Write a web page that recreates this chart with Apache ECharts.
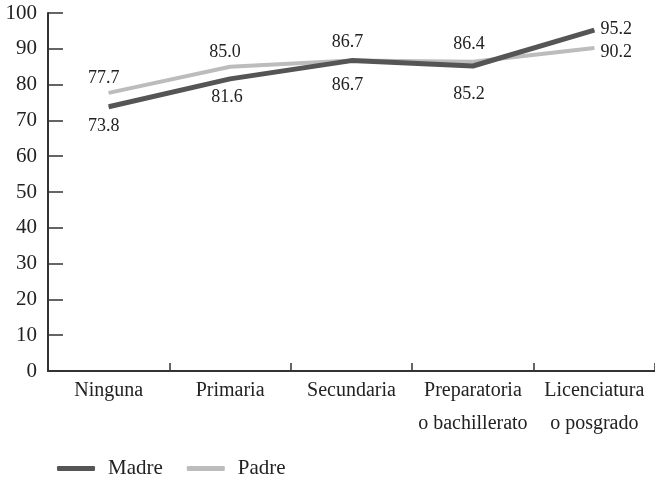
<!DOCTYPE html>
<html>
<head>
<meta charset="utf-8">
<script src="https://cdn.jsdelivr.net/npm/echarts@6/dist/echarts.min.js"></script>
<style>html,body{margin:0;padding:0;background:#fff}#c{width:655px;height:478px}</style>
</head>
<body>
<div id="c"></div>
<script>
const categories = ['Ninguna', 'Primaria', 'Secundaria', 'Preparatoria\no bachillerato', 'Licenciatura\no posgrado'];
const madre = [73.8, 81.6, 86.7, 85.2, 95.2];
const padre = [77.7, 85.0, 86.7, 86.4, 90.2];
const yTicks = [0, 10, 20, 30, 40, 50, 60, 70, 80, 90, 100];

// label placement tweaks (layout only)
const padreNudge = [[-5, 5], [-5, 5], [-4, 1], [-4, 2], [22, 24]];
const madreNudge = [[-5, -1], [-3, -2], [-4, 4], [-4, 8], [22, -21]];

const FONT = 'Liberation Serif';
const TXT = '#222';
const chart = echarts.init(document.getElementById('c'), null, {renderer: 'canvas'});
function lbl(pos, dist) {
  return {show: true, fontFamily: FONT, fontSize: 18, color: TXT, position: pos, distance: dist, formatter: p => Number(p.value).toFixed(1)};
}
chart.setOption({
  animation: false,
  grid: {left: 48, right: 0, top: 13, bottom: 107, containLabel: false},
  legend: {
    top: 453, left: 52, itemWidth: 38, itemHeight: 5, itemGap: 24,
    textStyle: {fontFamily: FONT, fontSize: 21, color: TXT, padding: [0, 0, 0, 8]},
    data: [{name: 'Madre', icon: 'roundRect'}, {name: 'Padre', icon: 'roundRect'}]
  },
  xAxis: {
    type: 'category', data: categories, boundaryGap: true,
    axisLine: {lineStyle: {color: '#333', width: 2}},
    axisTick: {show: true, inside: true, length: 8, lineStyle: {color: '#333', width: 1.5}},
    axisLabel: {fontFamily: FONT, fontSize: 20, color: TXT, lineHeight: 33, margin: 3, interval: 0}
  },
  yAxis: {
    type: 'value', min: 0, max: 100, interval: 10,
    axisLine: {show: true, lineStyle: {color: '#333', width: 2}},
    axisTick: {show: true, inside: true, length: 15, lineStyle: {color: '#333', width: 1.5}},
    splitLine: {show: false},
    axisLabel: {fontFamily: FONT, fontSize: 21, color: TXT, margin: 11, formatter: v => yTicks.includes(v) ? String(v) : ''}
  },
  series: [
    {
      name: 'Padre', type: 'line', data: padre, symbol: 'circle', symbolSize: 1, showSymbol: true, z: 2,
      lineStyle: {color: '#bcbcbc', width: 4},
      itemStyle: {color: '#bcbcbc'},
      label: lbl('top', 10),
      labelLayout: p => ({dx: padreNudge[p.dataIndex][0], dy: padreNudge[p.dataIndex][1]})
    },
    {
      name: 'Madre', type: 'line', data: madre, symbol: 'circle', symbolSize: 1, showSymbol: true, z: 3,
      lineStyle: {color: '#555555', width: 5},
      itemStyle: {color: '#555555'},
      label: lbl('bottom', 11),
      labelLayout: p => ({dx: madreNudge[p.dataIndex][0], dy: madreNudge[p.dataIndex][1]})
    }
  ]
});
</script>
</body>
</html>
